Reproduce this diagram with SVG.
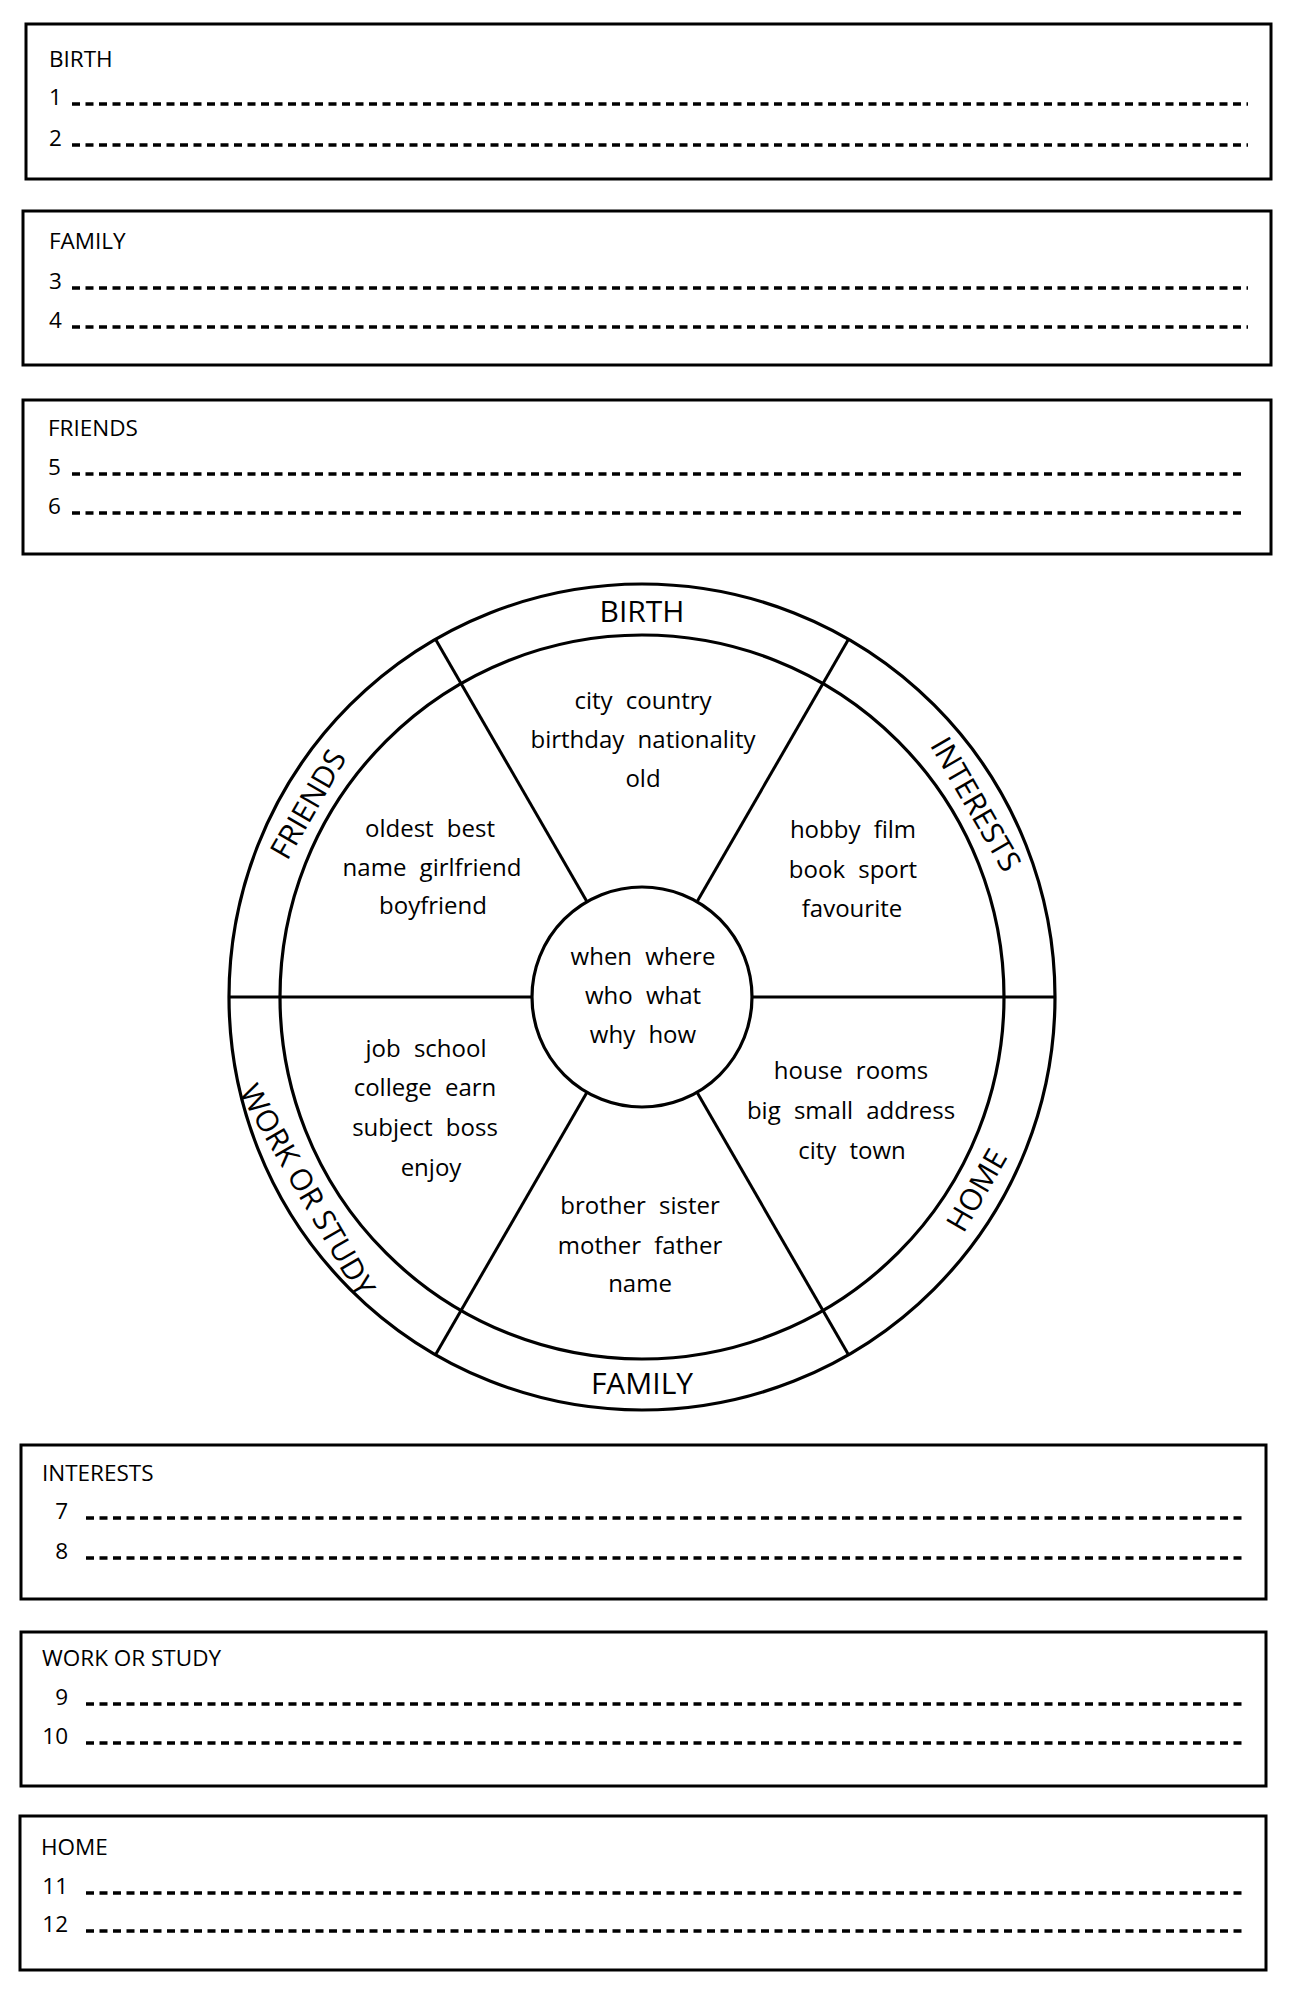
<svg xmlns="http://www.w3.org/2000/svg" width="1294" height="1992" viewBox="0 0 1294 1992">
<style>
  text { font-family: "Open Sans", "Noto Sans", "DejaVu Sans", sans-serif; fill: #000; }
  .box { fill: none; stroke: #000; stroke-width: 3; }
  .dash { stroke: #000; stroke-width: 3.6; stroke-dasharray: 8 5.5; }
  .lbl { font-size: 22.5px; }
  .num { font-size: 22.5px; }
  .ring { fill: none; stroke: #000; stroke-width: 3.2; }
  .spoke { stroke: #000; stroke-width: 3; }
  .rl { font-size: 30px; text-anchor: middle; }
  .st { font-size: 24px; text-anchor: middle; word-spacing: 7px; }
</style>
<rect width="1294" height="1992" fill="#fff"/>

<g id="box-birth">
  <rect class="box" x="26" y="24" width="1245" height="155"/>
  <text class="lbl" x="49" y="67">BIRTH</text>
  <text class="num" x="49" y="105">1</text>
  <line class="dash" x1="72" y1="104" x2="1248" y2="104"/>
  <text class="num" x="49" y="146">2</text>
  <line class="dash" x1="72" y1="145" x2="1248" y2="145"/>
</g>
<g id="box-family">
  <rect class="box" x="23" y="211" width="1248" height="154"/>
  <text class="lbl" x="49" y="249">FAMILY</text>
  <text class="num" x="49" y="289">3</text>
  <line class="dash" x1="72" y1="288" x2="1248" y2="288"/>
  <text class="num" x="49" y="328">4</text>
  <line class="dash" x1="72" y1="327" x2="1248" y2="327"/>
</g>
<g id="box-friends">
  <rect class="box" x="23" y="400" width="1248" height="154"/>
  <text class="lbl" x="48" y="436">FRIENDS</text>
  <text class="num" x="48" y="475">5</text>
  <line class="dash" x1="72" y1="474" x2="1246" y2="474"/>
  <text class="num" x="48" y="514">6</text>
  <line class="dash" x1="72" y1="513" x2="1246" y2="513"/>
</g>

<g id="wheel">
  <circle class="ring" cx="642" cy="997" r="413"/>
  <circle class="ring" cx="642" cy="997" r="362"/>
  <circle class="ring" cx="642" cy="997" r="110"/>
</g>
<g id="connectors">
  <line class="spoke" x1="752" y1="997" x2="1055" y2="997"/>
  <line class="spoke" x1="532" y1="997" x2="229" y2="997"/>
  <line class="spoke" x1="697" y1="901.7" x2="848.5" y2="639.3"/>
  <line class="spoke" x1="587" y1="901.7" x2="435.5" y2="639.3"/>
  <line class="spoke" x1="587" y1="1092.3" x2="435.5" y2="1354.7"/>
  <line class="spoke" x1="697" y1="1092.3" x2="848.5" y2="1354.7"/>
</g>

<g id="ring-labels">
  <text class="rl" x="642" y="622">BIRTH</text>
  <text class="rl" x="642" y="622" transform="rotate(60 642 997)">INTERESTS</text>
  <text class="rl" x="642" y="622" transform="rotate(-60 642 997)">FRIENDS</text>
  <text class="rl" x="642" y="1394">FAMILY</text>
  <text class="rl" x="642" y="1394" transform="rotate(-60 642 997)">HOME</text>
  <text class="rl" x="642" y="1394" transform="rotate(60 642 997)">WORK OR STUDY</text>
</g>

<g id="sector-birth">
  <text class="st" x="643" y="709">city country</text>
  <text class="st" x="643" y="748">birthday nationality</text>
  <text class="st" x="643" y="787">old</text>
</g>
<g id="sector-friends">
  <text class="st" x="430" y="837">oldest best</text>
  <text class="st" x="432" y="876">name girlfriend</text>
  <text class="st" x="433" y="914">boyfriend</text>
</g>
<g id="sector-interests">
  <text class="st" x="853" y="838">hobby film</text>
  <text class="st" x="853" y="878">book sport</text>
  <text class="st" x="852" y="917">favourite</text>
</g>
<g id="center">
  <text class="st" x="643" y="965">when where</text>
  <text class="st" x="643" y="1004">who what</text>
  <text class="st" x="643" y="1043">why how</text>
</g>
<g id="sector-work">
  <text class="st" x="426" y="1057">job school</text>
  <text class="st" x="425" y="1096">college earn</text>
  <text class="st" x="425" y="1136">subject boss</text>
  <text class="st" x="431" y="1176">enjoy</text>
</g>
<g id="sector-home">
  <text class="st" x="851" y="1079">house rooms</text>
  <text class="st" x="851" y="1119">big small address</text>
  <text class="st" x="852" y="1159">city town</text>
</g>
<g id="sector-family">
  <text class="st" x="640" y="1214">brother sister</text>
  <text class="st" x="640" y="1254">mother father</text>
  <text class="st" x="640" y="1292">name</text>
</g>

<g id="box-interests">
  <rect class="box" x="21" y="1445" width="1245" height="154"/>
  <text class="lbl" x="42" y="1481">INTERESTS</text>
  <text class="num" x="68" y="1519" text-anchor="end">7</text>
  <line class="dash" x1="86" y1="1518" x2="1244" y2="1518"/>
  <text class="num" x="68" y="1559" text-anchor="end">8</text>
  <line class="dash" x1="86" y1="1558" x2="1244" y2="1558"/>
</g>
<g id="box-work">
  <rect class="box" x="21" y="1632" width="1245" height="154"/>
  <text class="lbl" x="42" y="1666">WORK OR STUDY</text>
  <text class="num" x="68" y="1705" text-anchor="end">9</text>
  <line class="dash" x1="86" y1="1704" x2="1244" y2="1704"/>
  <text class="num" x="68" y="1744" text-anchor="end">10</text>
  <line class="dash" x1="86" y1="1743" x2="1244" y2="1743"/>
</g>
<g id="box-home">
  <rect class="box" x="20" y="1816" width="1246" height="154"/>
  <text class="lbl" x="41" y="1855">HOME</text>
  <text class="num" x="68" y="1894" text-anchor="end">11</text>
  <line class="dash" x1="86" y1="1893" x2="1244" y2="1893"/>
  <text class="num" x="68" y="1932" text-anchor="end">12</text>
  <line class="dash" x1="86" y1="1931" x2="1244" y2="1931"/>
</g>
</svg>
